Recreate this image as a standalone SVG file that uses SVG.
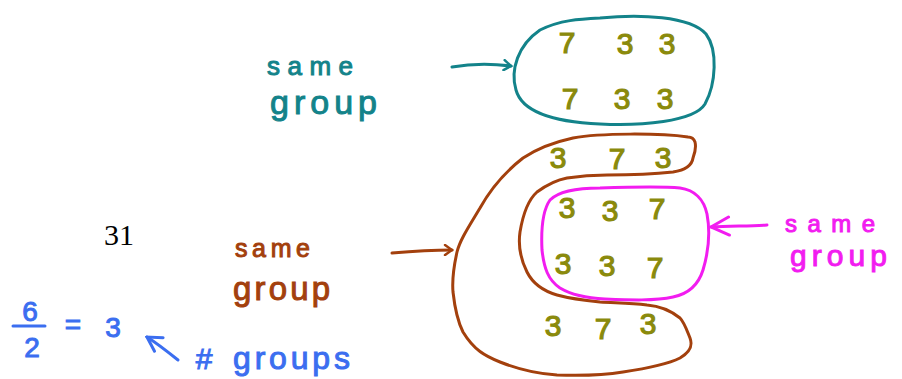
<svg xmlns="http://www.w3.org/2000/svg" width="902" height="379" viewBox="0 0 902 379">
  <defs>
    <style>
      .hand { font-family: "Liberation Sans", Arial, sans-serif; stroke-width: 1; }
      .loop { fill: none; stroke-width: 3; stroke-linecap: round; stroke-linejoin: round; }
      .line { fill: none; stroke-width: 3; stroke-linecap: round; }
      .digit { font-family: "Liberation Sans", Arial, sans-serif; font-size: 30px; fill: #8a8a0c; stroke: #8a8a0c; stroke-width: 1.2; text-anchor: middle; }
      .teal { stroke: #13838a; }
      .brown { stroke: #a3400d; }
      .pink { stroke: #f21cf0; }
      .blue { stroke: #3b6ef0; }
      .tealT { fill: #13838a; stroke: #13838a; }
      .brownT { fill: #a3400d; stroke: #a3400d; }
      .pinkT { fill: #f21cf0; stroke: #f21cf0; }
      .blueT { fill: #3b6ef0; stroke: #3b6ef0; }
    </style>
    <marker id="headTeal" viewBox="0 0 12 12" refX="10" refY="6" markerWidth="12" markerHeight="12" markerUnits="userSpaceOnUse" orient="auto">
      <path d="M3,1 L10,6 L3,11" fill="none" stroke="#13838a" stroke-width="2.5" stroke-linecap="round"/>
    </marker>
    <marker id="headBrown" viewBox="0 0 12 12" refX="10" refY="6" markerWidth="12" markerHeight="12" markerUnits="userSpaceOnUse" orient="auto">
      <path d="M3,1 L10,6 L3,11" fill="none" stroke="#a3400d" stroke-width="2.5" stroke-linecap="round"/>
    </marker>
    <marker id="headPink" viewBox="0 0 24 24" refX="22" refY="12" markerWidth="24" markerHeight="24" markerUnits="userSpaceOnUse" orient="auto">
      <path d="M4,3 L22,12 L4,21" fill="none" stroke="#f21cf0" stroke-width="3" stroke-linecap="round"/>
    </marker>
    <marker id="headBlue" viewBox="0 0 20 20" refX="18" refY="10" markerWidth="20" markerHeight="20" markerUnits="userSpaceOnUse" orient="auto">
      <path d="M4,2 L18,10 L4,18" fill="none" stroke="#3b6ef0" stroke-width="3" stroke-linecap="round"/>
    </marker>
  </defs>

  <rect width="902" height="379" fill="#ffffff"/>

  <!-- page number -->
  <text x="119" y="245" font-family="Liberation Serif, serif" font-size="30" text-anchor="middle" fill="#000">31</text>

  <!-- top group: the two 7 3 3 rows -->
  <g id="groupTop">
    <path class="loop teal" d="M600,18 C640,14 690,16 706,34 C718,50 716,84 705,104 C694,122 640,126 600,124 C555,122 522,112 516,90 C510,70 518,45 540,30 C560,20 580,19 600,18 Z"/>
    <text class="digit" x="567" y="53">7</text>
    <text class="digit" x="625" y="54">3</text>
    <text class="digit" x="667" y="54">3</text>
    <text class="digit" x="570" y="109">7</text>
    <text class="digit" x="622" y="109">3</text>
    <text class="digit" x="665" y="109">3</text>
  </g>

  <!-- outer brown group: 3 7 3 rows wrapped round the inner block -->
  <g id="groupOuter">
    <path class="loop brown" d="M688,137 C660,133 600,133 573,138 C550,143 535,150 523,158 C505,172 490,190 480,208 C468,228 460,240 457,252 C453,270 452,280 453,292 C455,310 458,322 463,332 C474,350 485,356 500,362 C520,370 540,374 557,375 C585,376 605,375 623,372 C650,368 668,364 680,358 C690,352 693,346 690,338 C686,328 684,322 680,318 C670,310 660,306 647,305 C630,303 615,303 600,302 C580,300 568,298 557,295 C540,290 532,282 527,272 C520,258 518,246 520,232 C523,214 528,200 537,192 C548,184 556,180 567,178 C580,176 595,175 607,175 C630,175 655,174 673,172 C686,170 692,165 693,158 C696,150 696,146 695,142 C694,139 691,137 688,137 Z"/>
    <text class="digit" x="558" y="168">3</text>
    <text class="digit" x="617" y="169">7</text>
    <text class="digit" x="663" y="168">3</text>
    <text class="digit" x="553" y="336">3</text>
    <text class="digit" x="603" y="339">7</text>
    <text class="digit" x="648" y="334">3</text>
  </g>

  <!-- inner magenta group: the two 3 3 7 rows -->
  <g id="groupInner">
    <path class="loop pink" d="M550,200 C560,190 580,188 600,188 C630,187 660,186 680,188 C695,190 704,200 707,214 C710,230 709,250 703,270 C698,286 688,294 673,297 C655,301 630,300 605,299 C585,298 570,294 560,288 C548,280 544,268 542,250 C541,230 543,210 550,200 Z"/>
    <text class="digit" x="567" y="218">3</text>
    <text class="digit" x="610" y="221">3</text>
    <text class="digit" x="657" y="219">7</text>
    <text class="digit" x="563" y="274">3</text>
    <text class="digit" x="607" y="276">3</text>
    <text class="digit" x="655" y="278">7</text>
  </g>

  <!-- labels -->
  <g id="labelTop">
    <text class="hand tealT" x="267" y="75" font-size="26" textLength="86" lengthAdjust="spacing">same</text>
    <text class="hand tealT" x="270" y="114" font-size="34" textLength="107" lengthAdjust="spacing">group</text>
  </g>
  <g id="labelOuter">
    <text class="hand brownT" x="235" y="257" font-size="25" textLength="75" lengthAdjust="spacing">same</text>
    <text class="hand brownT" x="233" y="300" font-size="33" textLength="97" lengthAdjust="spacing">group</text>
  </g>
  <g id="labelInner">
    <text class="hand pinkT" x="785" y="232" font-size="24" textLength="90" lengthAdjust="spacing">same</text>
    <text class="hand pinkT" x="790" y="266" font-size="30" textLength="97" lengthAdjust="spacing">group</text>
  </g>
  <g id="labelCount">
    <text class="hand blueT" x="30" y="321" font-size="28" text-anchor="middle">6</text>
    <text class="hand blueT" x="32" y="357" font-size="28" text-anchor="middle">2</text>
    <text class="hand blueT" x="73" y="334" font-size="28" text-anchor="middle">=</text>
    <text class="hand blueT" x="113" y="337" font-size="28" text-anchor="middle">3</text>
    <text class="hand blueT" x="204" y="369" font-size="30" text-anchor="middle">#</text>
    <text class="hand blueT" x="233" y="369" font-size="32" textLength="117" lengthAdjust="spacing">groups</text>
  </g>

  <!-- connectors -->
  <g id="connectors">
    <path class="line teal" d="M452,67 C475,63 495,64 511,66" marker-end="url(#headTeal)"/>
    <path class="line brown" d="M392,253 C415,251 435,250 452,250" marker-end="url(#headBrown)"/>
    <path class="line pink" d="M767,225 C750,226 730,226 711,227" marker-end="url(#headPink)"/>
    <path class="line blue" d="M178,360 C168,352 158,344 147,337" marker-end="url(#headBlue)"/>
    <path class="line blue" d="M13,326 L45,326"/>
  </g>
</svg>
